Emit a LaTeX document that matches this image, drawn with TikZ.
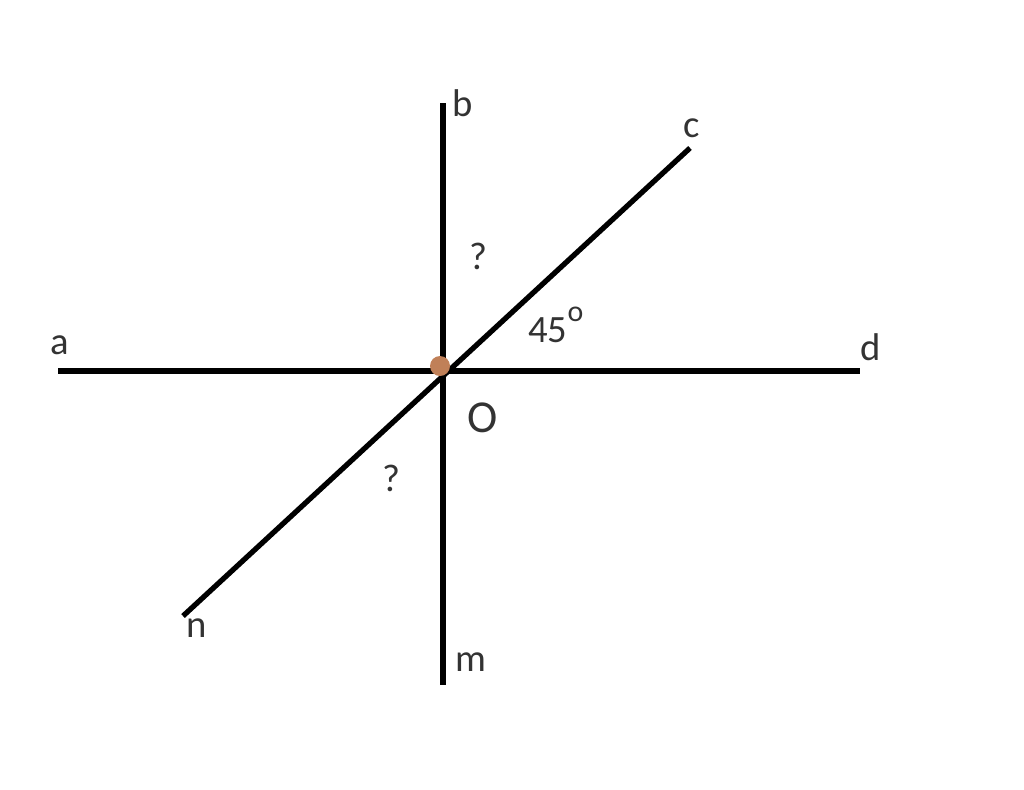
\documentclass[tikz,border=0pt]{standalone}
\usepackage{fontspec}
\setmainfont{Carlito}
\usepackage{tikz}
\usetikzlibrary{positioning}
\definecolor{txtgray}{HTML}{333333}
\definecolor{dotbrown}{HTML}{C08058}
\tikzstyle{ray} = [line width=3.4pt, black]
\tikzstyle{lbl} = [text=txtgray, font=\fontsize{22}{24}\selectfont, inner sep=0pt]
\begin{document}
\begin{tikzpicture}[x=0.02cm, y=-0.02cm]
\useasboundingbox (0,0) rectangle (1024,789);
\coordinate (O) at (443,369);
\coordinate (a) at (58,371);
\coordinate (d) at (860,371);
\coordinate (b) at (443,103);
\coordinate (m) at (443,685);
\coordinate (c) at (690,148);
\coordinate (n) at (183,616);
\draw [ray] (a) -- (d);
\draw [ray] (b) -- (m);
\draw [ray, line width=3pt] (n) -- (c);
\fill [dotbrown] (440,366) circle (10);
\node [lbl] at (60,345) {a};
\node [lbl] at (463,103) {b};
\node [lbl] at (692,128) {c};
\node [lbl] at (871,347) {d};
\node [lbl] at (197,628) {n};
\node [lbl] at (471,662) {m};
\node [lbl, font=\fontsize{26}{28}\selectfont] at (483,418) {O};
\node [lbl] at (478,256) {?};
\node [lbl] at (391,478) {?};
\node [lbl, anchor=west] at (528,325) {45\raisebox{0.55em}{\fontsize{17}{18}\selectfont o}};
\end{tikzpicture}
\end{document}
